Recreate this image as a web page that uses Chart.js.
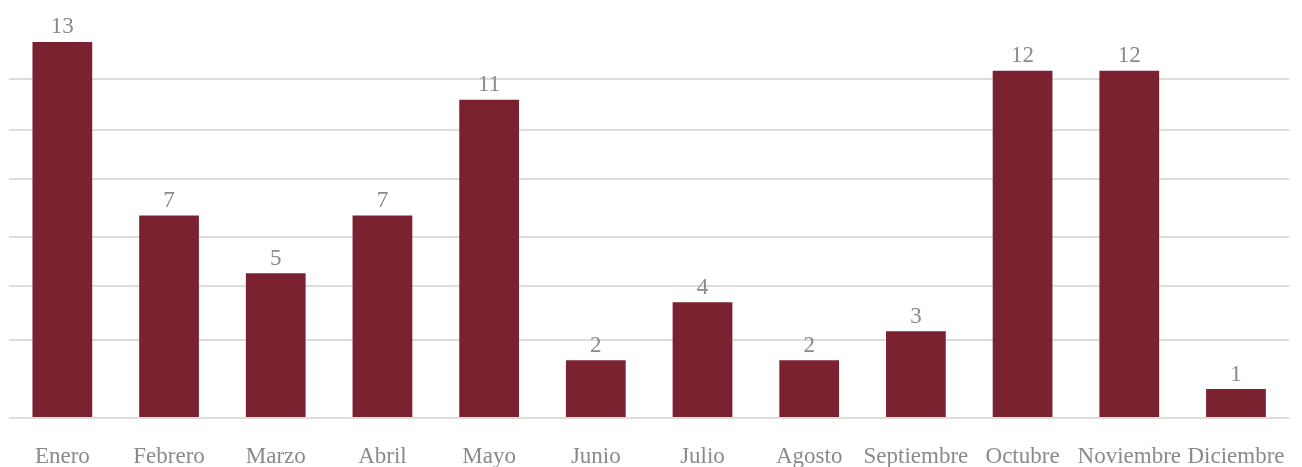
<!DOCTYPE html>
<html>
<head>
<meta charset="utf-8">
<script src="https://cdn.jsdelivr.net/npm/chart.js@4"></script>
<style>
  html, body { margin: 0; padding: 0; background: #fff; }
  #wrap { width: 1302px; height: 467px; position: relative; }
</style>
</head>
<body>
<div id="wrap"><canvas id="chart"></canvas></div>
<script>
let months = ["Enero", "Febrero", "Marzo", "Abril", "Mayo", "Junio", "Julio", "Agosto", "Septiembre", "Octubre", "Noviembre", "Diciembre"];
let counts = [13, 7, 5, 7, 11, 2, 4, 2, 3, 12, 12, 1];
// gridlines as they sit in the picture (value units)
let gridValues = [0, 2.7, 4.56, 6.26, 8.26, 9.96, 11.72];

const serif = "'Liberation Serif', 'DejaVu Serif', serif";
const grey = "#8a8a8a";

/* value labels above bars */
const barLabels = {
    id: "barLabels",
    afterDatasetsDraw(chart) {
        const ctx = chart.ctx;
        const meta = chart.getDatasetMeta(0);
        ctx.save();
        ctx.font = "23px " + serif;
        ctx.fillStyle = grey;
        ctx.textAlign = "center";
        ctx.textBaseline = "bottom";
        meta.data.forEach((bar, i) => {
            ctx.fillText(counts[i], bar.x, bar.y - 3);
        });
        ctx.restore();
    }
};

new Chart(document.getElementById("chart"), {
    type: "bar",
    data: {
        labels: months,
        datasets: [{
            data: counts,
            backgroundColor: "#7b2230",
            barPercentage: 0.56,
            categoryPercentage: 1
        }]
    },
    options: {
        responsive: true,
        maintainAspectRatio: false,
        animation: false,
        layout: { padding: { left: 9, right: 12, top: 13, bottom: 0 } },
        plugins: {
            legend: { display: false },
            tooltip: { enabled: false }
        },
        scales: {
            x: {
                grid: { display: false },
                border: { display: false },
                ticks: {
                    color: grey,
                    font: { family: serif, size: 23 },
                    padding: 17,
                    maxRotation: 0,
                    autoSkip: false
                },
                afterFit: (axis) => { axis.height = 49; }
            },
            y: {
                min: 0,
                max: 14,
                display: true,
                border: { display: false },
                grid: { color: "#dddddd", lineWidth: 2, drawTicks: false },
                ticks: { display: false },
                afterBuildTicks: (axis) => {
                    axis.ticks = gridValues.map(v => ({ value: v }));
                }
            }
        }
    },
    plugins: [barLabels]
});
</script>
</body>
</html>
